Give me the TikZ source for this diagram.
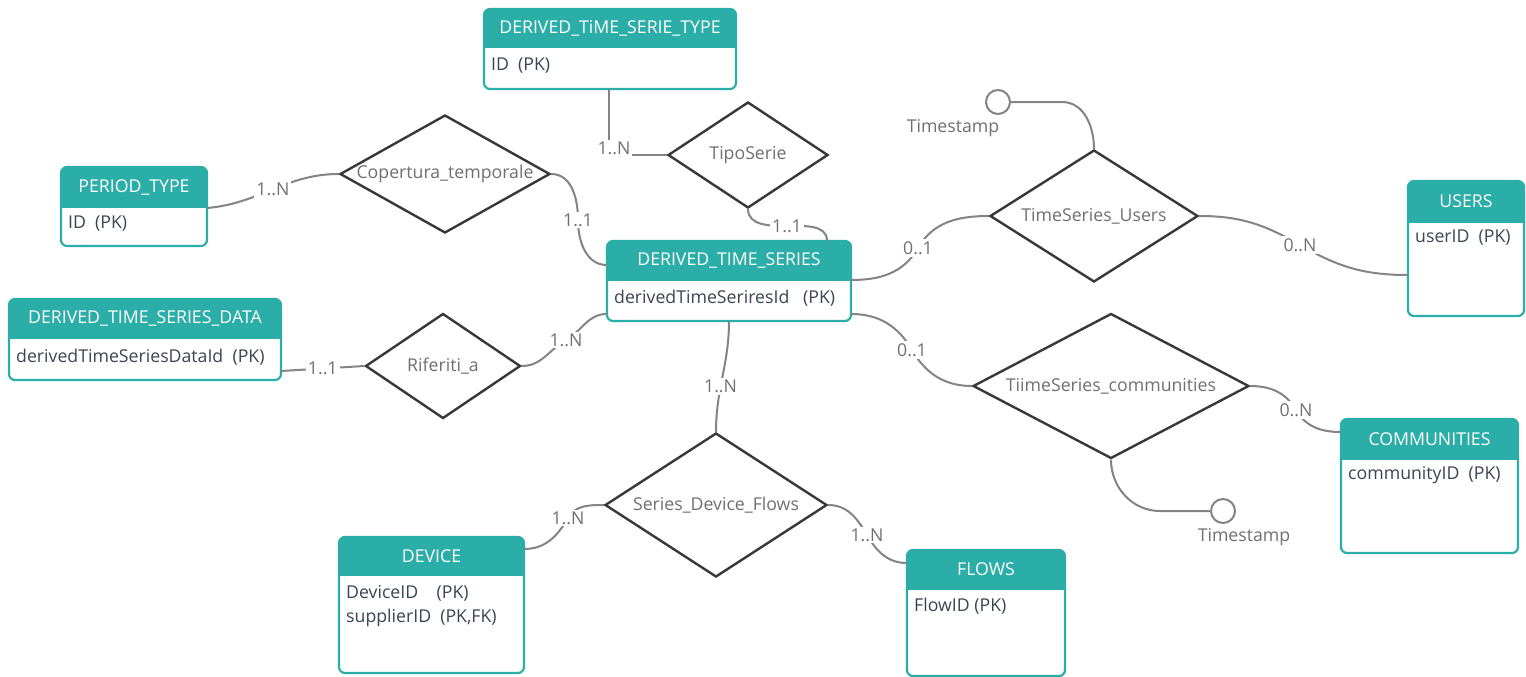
\documentclass[tikz,border=0pt]{standalone}
\usepackage{fontspec}
\setmainfont{Open Sans}
\usetikzlibrary{shapes.geometric,fit}
\definecolor{tealc}{HTML}{2BADA8}
\definecolor{bodytxt}{HTML}{3B4554}
\definecolor{reltxt}{HTML}{707070}
\definecolor{conn}{HTML}{848484}
\definecolor{relline}{HTML}{383838}
\tikzset{
  rel/.style={diamond, draw=relline, line width=2.4pt, inner sep=0pt, fill=white},
  reltext/.style={text=reltxt, font=\fontsize{17.7}{21}\selectfont, inner sep=0pt},
  card/.style={fill=white, text=reltxt, font=\fontsize{17.7}{21}\selectfont, inner sep=2pt},
  wire/.style={draw=conn, line width=2pt},
  ttl/.style={text=white, font=\fontsize{17.7}{21}\selectfont, inner sep=0pt},
  bodyt/.style={text=bodytxt, font=\fontsize{17.7}{24}\selectfont, inner sep=0pt, align=left},
  tscirc/.style={circle, draw=conn, line width=2pt, fill=white, minimum size=24pt, inner sep=0pt},
  tstext/.style={text=reltxt, font=\fontsize{17.7}{21}\selectfont, inner sep=0pt}
}
% #1 name, #2 left, #3 top, #4 right, #5 bottom, #6 header bottom, #7 title, #8 body y, #9 body
\newcommand\erent[9]{%
  \begin{scope}
    \clip (#2,-#3) rectangle (#4,-#6);
    \fill[tealc, rounded corners=6pt] (#2,-#3) rectangle (#4,-#5);
  \end{scope}
  \draw[tealc, line width=2.2pt, rounded corners=6pt] (#2,-#3) rectangle (#4,-#5);
  \node[fit={(#2,-#3)(#4,-#5)}, inner sep=0pt] (#1) {};
  \node[ttl] (#1-t) at ({(#2+#4)/2},{-(#3+#6)/2}) {#7};
  \node[bodyt, anchor=west] (#1-b) at ({#2+7},-#8) {#9};
}
\begin{document}
\begin{tikzpicture}[x=1pt,y=1pt]
\useasboundingbox (0,0) rectangle (1526,-677);
\fill[white] (0,0) rectangle (1526,-677);

% entities
\erent{dtst}{484}{9}{736}{89}{48}{DERIVED\_TiME\_SERIE\_TYPE}{66}{ID\ \ (PK)}
\erent{pt}{61}{167}{207}{246}{207}{PERIOD\_TYPE}{224}{ID\ \ (PK)}
\erent{dtsd}{9}{299}{281}{380}{338}{DERIVED\_TIME\_SERIES\_DATA}{357}{derivedTimeSeriesDataId\ \ (PK)}
\erent{dts}{607}{241}{851}{321}{280}{DERIVED\_TIME\_SERIES}{298}{derivedTimeSeriresId\ \ \ (PK)}
\erent{users}{1408}{181}{1524}{316}{222}{USERS}{238}{userID\ \ (PK)}
\erent{comm}{1341}{419}{1518}{553}{459}{COMMUNITIES}{475}{communityID\ \ (PK)}
\erent{dev}{339}{537}{524}{673}{575}{DEVICE}{606}{DeviceID\ \ \ \ (PK)\\supplierID\ \ (PK,FK)}
\erent{flows}{907}{550}{1065}{676}{589}{FLOWS}{606}{FlowID (PK)}

% relationships
\node[rel, minimum width=210pt, minimum height=118pt] (cop) at (445,-174) {};
\node[reltext] (cop-t) at (cop) {Copertura\_temporale};
\node[rel, minimum width=160pt, minimum height=106pt] (tipo) at (748,-155) {};
\node[reltext] (tipo-t) at (tipo) {TipoSerie};
\node[rel, minimum width=208pt, minimum height=132pt] (tsu) at (1094,-216) {};
\node[reltext] (tsu-t) at (tsu) {TimeSeries\_Users};
\node[rel, minimum width=155pt, minimum height=105pt] (rif) at (443,-366) {};
\node[reltext] (rif-t) at (rif) {Riferiti\_a};
\node[rel, minimum width=276pt, minimum height=145pt] (tc) at (1111,-386) {};
\node[reltext] (tc-t) at (tc) {TiimeSeries\_communities};
\node[rel, minimum width=222pt, minimum height=144pt] (sdf) at (716,-505) {};
\node[reltext] (sdf-t) at (sdf) {Series\_Device\_Flows};

% timestamps
\node[tscirc] (ts1) at (998,-102) {};
\node[tstext] (ts1-t) at (953,-128) {Timestamp};
\node[tscirc] (ts2) at (1223,-511) {};
\node[tstext] (ts2-t) at (1244,-537) {Timestamp};

% connectors
\draw[wire] (pt.east |- 0,-208) to[out=5,in=180] node[card,pos=0.5] (c1) {1..N} (cop.west);
\draw[wire] (cop.east) to[out=0,in=90] (578,-220) node[card] (c2) {1..1} to[out=-90,in=180] (dts.west |- 0,-265);
\draw[wire] (dtst.south -| 609,0) |- node[card,pos=0.5,xshift=5pt,yshift=7pt] (c3) {1..N} (tipo.west);
\draw[wire] (tipo.south) to[out=-90,in=180] (787,-226) node[card] (c4) {1..1} to[out=0,in=90] (dts.north -| 827,0);
\draw[wire] (dts.east |- 0,-280) to[out=0,in=240] (918,-248) node[card] (c5) {0..1} to[out=60,in=180] (tsu.west);
\draw[wire] (tsu.east) to[out=0,in=150] (1300,-245) node[card] (c6) {0..N} to[out=-30,in=180] (users.west |- 0,-275);
\draw[wire] (ts1.east) -- (1062,-102) to[out=0,in=90] (tsu.north);
\draw[wire] (dts.east |- 0,-314) to[out=0,in=120] (912,-350) node[card] (c8) {0..1} to[out=-60,in=180] (tc.west);
\draw[wire] (tc.east) to[out=0,in=120] (1296,-410) node[card] (c9) {0..N} to[out=-60,in=180] (comm.west |- 0,-432);
\draw[wire] (tc.south) to[out=-90,in=180] (1160,-511) -- (ts2.west);
\draw[wire] (dtsd.east |- 0,-371) -- node[card] (c11) {1..1} (rif.west);
\draw[wire] (rif.east) to[out=0,in=210] (566,-340) node[card] (c12) {1..N} to[out=30,in=180] (dts.west |- 0,-314);
\draw[wire] (dts.south -| 729,0) to[out=-90,in=90] node[card,pos=0.6] (c13) {1..N} (sdf.north);
\draw[wire] (sdf.west) to[out=180,in=60] (568,-518) node[card] (c14) {1..N} to[out=240,in=0] (dev.east |- 0,-549);
\draw[wire] (sdf.east) to[out=0,in=120] (867,-535) node[card] (c15) {1..N} to[out=-60,in=180] (flows.west |- 0,-563);
\end{tikzpicture}
\end{document}
